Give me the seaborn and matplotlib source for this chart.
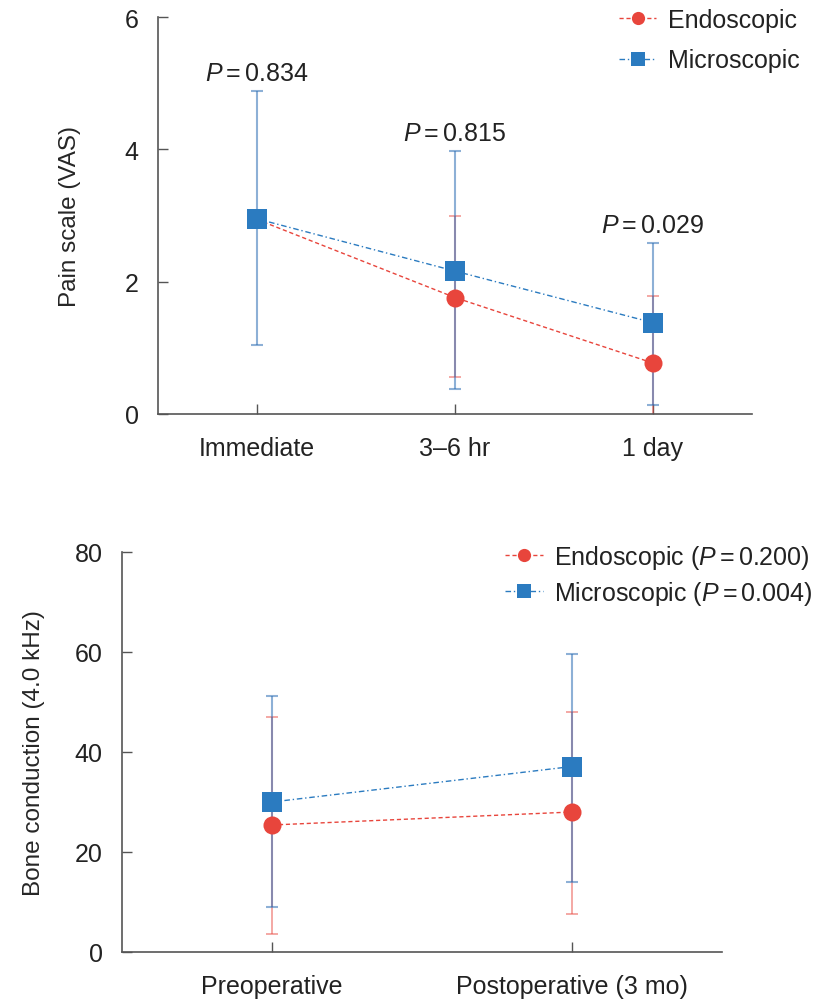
"""
Pain scale and bone conduction, endoscopic vs microscopic.
Two stacked panels, mean with range bars, written to out.png.
"""
import matplotlib
matplotlib.use("Agg")
import matplotlib.lines as mlines
import matplotlib.pyplot as plt
import numpy as np
import pandas as pd
import seaborn as sns

# ---- data ----
GROUPS = ["Endoscopic", "Microscopic"]

PAIN_CATS = ["Immediate", "3\u20136 hr", "1 day"]
PAIN_ENDO_MEAN = [2.94, 1.76, 0.77]
PAIN_ENDO_LO = [np.nan, 0.56, -0.25]
PAIN_ENDO_HI = [np.nan, 3.00, 1.79]
PAIN_MICRO_MEAN = [2.95, 2.16, 1.38]
PAIN_MICRO_LO = [1.05, 0.38, 0.14]
PAIN_MICRO_HI = [4.88, 3.98, 2.58]
PAIN_P = ["0.834", "0.815", "0.029"]

BONE_CATS = ["Preoperative", "Postoperative (3 mo)"]
BONE_ENDO_MEAN = [25.4, 28.0]
BONE_ENDO_LO = [3.6, 7.6]
BONE_ENDO_HI = [47.1, 48.1]
BONE_MICRO_MEAN = [30.0, 37.1]
BONE_MICRO_LO = [9.1, 14.1]
BONE_MICRO_HI = [51.2, 59.7]
BONE_P = ["0.200", "0.004"]

# ---- style ----
RED = "#e8453c"
BLUE = "#2b7bc0"
RED_ERR = "#e8453c"
BLUE_ERR = "#2f6fb5"
SPINE = "#555555"
FS = 18

MARKERS = {"Endoscopic": "o", "Microscopic": "s"}
MARKER_SIZE = {"o": 13.0, "s": 14.5}
DASHES = {"Endoscopic": (3, 2), "Microscopic": (4, 2, 1, 2)}
PALETTE = {"Endoscopic": RED, "Microscopic": BLUE}

sns.set_style("ticks")
plt.rcParams["font.family"] = ["Liberation Sans", "DejaVu Sans"]
plt.rcParams["mathtext.fontset"] = "custom"
plt.rcParams["mathtext.rm"] = "Liberation Sans"
plt.rcParams["mathtext.it"] = "Liberation Sans:italic"
plt.rcParams["text.color"] = "#222222"


def make_frame(cats, endo_mean, endo_lo, endo_hi, micro_mean, micro_lo, micro_hi):
    pos = np.arange(len(cats))
    rows = []
    for g, m, lo, hi in [("Endoscopic", endo_mean, endo_lo, endo_hi),
                         ("Microscopic", micro_mean, micro_lo, micro_hi)]:
        for i, c in enumerate(cats):
            rows.append({"pos": pos[i], "cat": c, "group": g,
                         "mean": m[i], "lo": lo[i], "hi": hi[i]})
    return pd.DataFrame(rows)


def draw_panel(ax, df, cats, ylim, yticks, ylabel, label_x):
    # range bars first, red under blue so the overlap mixes
    for g, col, lw, a in [("Endoscopic", RED_ERR, 1.3, 0.5),
                          ("Microscopic", BLUE_ERR, 1.5, 0.55)]:
        sub = df[df["group"] == g]
        yerr = np.vstack([sub["mean"] - sub["lo"], sub["hi"] - sub["mean"]])
        ax.errorbar(sub["pos"], sub["mean"], yerr=yerr, fmt="none",
                    ecolor=col, elinewidth=lw, capsize=4, capthick=lw,
                    alpha=a, zorder=1)

    sns.lineplot(data=df, x="pos", y="mean", hue="group", style="group",
                 hue_order=GROUPS, style_order=GROUPS, palette=PALETTE,
                 markers=MARKERS, dashes=DASHES, linewidth=1.0,
                 markersize=13, markeredgewidth=0, legend=False,
                 ax=ax, zorder=3, errorbar=None)
    # squares read a touch larger than the circles in the original
    for ln in ax.lines:
        m = ln.get_marker()
        if m in MARKER_SIZE:
            ln.set_markersize(MARKER_SIZE[m])

    ax.set_xlim(-0.5, len(cats) - 0.5)
    ax.set_ylim(*ylim)
    ax.set_yticks(yticks)
    ax.set_xticks(np.arange(len(cats)))
    ax.set_xticklabels(cats)
    ax.set_xlabel("")
    ax.set_ylabel(ylabel, fontsize=17.5)
    ax.yaxis.set_label_coords(label_x, 0.5)

    sns.despine(ax=ax)
    for side in ["left", "bottom"]:
        ax.spines[side].set_color(SPINE)
        ax.spines[side].set_linewidth(1.2)
    ax.tick_params(axis="both", direction="in", length=7, width=1,
                   color=SPINE, labelsize=FS, labelcolor="#222222", pad=14)
    ax.tick_params(axis="x", pad=16)


def legend_handles(labels):
    hs = []
    for g, lab in zip(GROUPS, labels):
        hs.append(mlines.Line2D([], [], color=PALETTE[g], marker=MARKERS[g],
                                markersize=9.5, markeredgewidth=0,
                                linewidth=1.0, dashes=DASHES[g], label=lab))
    return hs


fig = plt.figure(figsize=(8.14, 10.04), dpi=100)

# top panel: pain scale
ax1 = fig.add_axes([158 / 814, 1 - 415 / 1004, 594 / 814, 397 / 1004])
pain = make_frame(PAIN_CATS, PAIN_ENDO_MEAN, PAIN_ENDO_LO, PAIN_ENDO_HI,
                  PAIN_MICRO_MEAN, PAIN_MICRO_LO, PAIN_MICRO_HI)
draw_panel(ax1, pain, PAIN_CATS, (0, 6), [0, 2, 4, 6], "Pain scale (VAS)", -0.13)

top = np.fmax(np.array(PAIN_ENDO_HI), np.array(PAIN_MICRO_HI))
for i, p in enumerate(PAIN_P):
    ax1.annotate(r"$P=$" + p, xy=(i, top[i]), xytext=(0, 8),
                 textcoords="offset points", ha="center", va="baseline",
                 fontsize=FS)

fig.legend(handles=legend_handles(GROUPS), loc="upper right",
           bbox_to_anchor=(0.982, 1 - 9 / 1004), bbox_transform=fig.transFigure,
           frameon=False, fontsize=FS, handlelength=1.5, handletextpad=0.45,
           labelspacing=0.65, borderpad=0, borderaxespad=0)

# bottom panel: bone conduction
ax2 = fig.add_axes([122 / 814, 1 - 953 / 1004, 600 / 814, 400 / 1004])
bone = make_frame(BONE_CATS, BONE_ENDO_MEAN, BONE_ENDO_LO, BONE_ENDO_HI,
                  BONE_MICRO_MEAN, BONE_MICRO_LO, BONE_MICRO_HI)
draw_panel(ax2, bone, BONE_CATS, (0, 80), [0, 20, 40, 60, 80],
           "Bone conduction (4.0 kHz)", -0.128)

bone_labels = [f"{g} (" + r"$P=$" + p + ")" for g, p in zip(GROUPS, BONE_P)]
fig.legend(handles=legend_handles(bone_labels), loc="upper right",
           bbox_to_anchor=(0.998, 1 - 544 / 1004), bbox_transform=fig.transFigure,
           frameon=False, fontsize=FS, handlelength=1.5, handletextpad=0.45,
           labelspacing=0.32, borderpad=0, borderaxespad=0)

fig.savefig("out.png", dpi=100)
plt.close(fig)
